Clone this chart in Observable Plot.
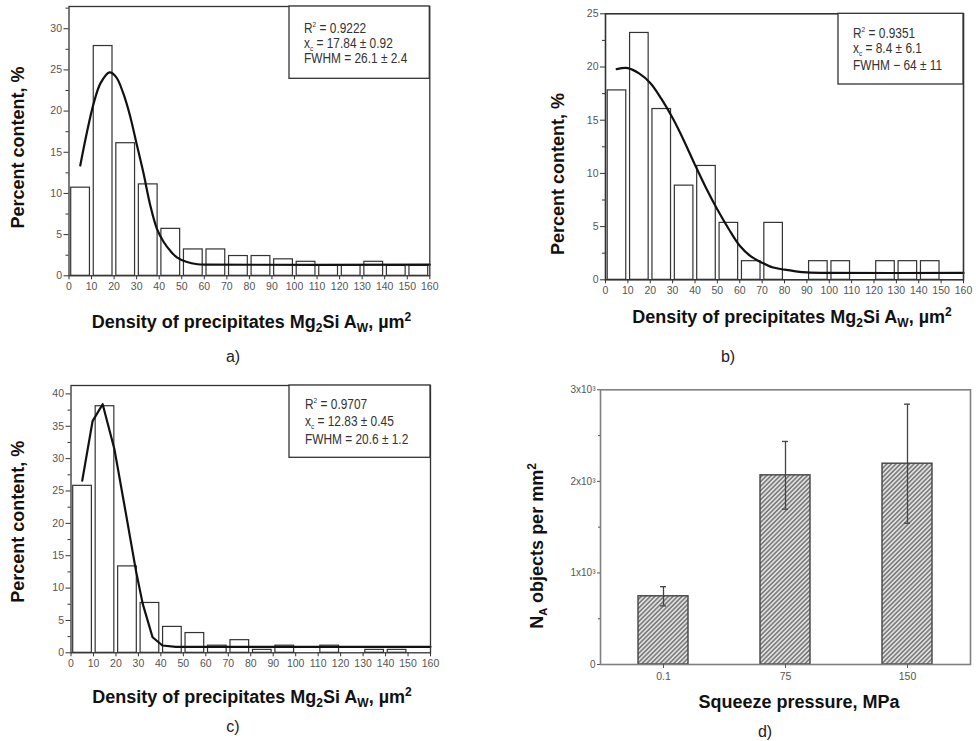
<!DOCTYPE html>
<html><head><meta charset="utf-8">
<script src="https://cdn.jsdelivr.net/npm/d3@7"></script>
<script src="https://cdn.jsdelivr.net/npm/@observablehq/plot@0.6"></script>
<style>
body{margin:0;background:#fff;}
#page{position:relative;width:976px;height:741px;background:#fff;font-family:"Liberation Sans",Arial,sans-serif;overflow:hidden;}
.panel{position:absolute;}
.cap{position:absolute;font-size:16px;color:#222;transform:translate(-50%,-50%);line-height:1;}
</style></head><body><div id="page"></div>
<script>
// ---------- data ----------
const binStarts = [0,10,20,30,40,50,60,70,80,90,100,110,120,130,140,150];
const xTicks = [0,10,20,30,40,50,60,70,80,90,100,110,120,130,140,150,160];

const pctA  = [10.7,27.9,16.1,11.1,5.7,3.2,3.2,2.4,2.4,2.0,1.7,1.25,1.25,1.7,1.2,1.2];
const fitAx = [5,8,11,14,18,21,24,27,30,33,36,39,42,45,48,52,57,62,160];
const fitAy = [13.4,17.5,21.0,23.4,24.7,24.1,22.2,19.5,16.0,12.5,8.6,5.7,4.1,3.0,2.2,1.7,1.4,1.35,1.35];
const statsA = ["0.9222","17.84 ± 0.92","= 26.1 ± 2.4"];

const pctB  = [17.8,23.2,16.05,8.85,10.7,5.35,1.75,5.35,0,1.75,1.75,0,1.75,1.75,1.75,0];
const fitBx = [5,10,15,20,25,30,35,40,45,50,55,60,65,70,75,80,85,90,100,160];
const fitBy = [19.8,19.9,19.4,18.5,17.0,15.2,13.1,10.8,8.6,6.6,4.8,3.2,2.2,1.6,1.15,0.95,0.8,0.7,0.65,0.65];
const statsB = ["0.9351","8.4 ± 6.1","− 64 ± 11"];

const pctC  = [25.8,38.1,13.35,7.7,4.0,3.05,1.1,1.95,0.45,1.1,0,1.1,0,0.45,0.45,0];
const fitCx = [5,9.6,14.1,19.3,24.7,28.9,31.9,36.3,40.7,46.6,160];
const fitCy = [26.6,35.8,38.4,31.5,21,12.7,7.6,2.4,1.13,0.93,0.93];
const statsC = ["0.9707","12.83 ± 0.45","= 20.6 ± 1.2"];

const pressures = ["0.1","75","150"];
const densityNA = [745,2066,2193];
const errNA     = [105,370,650];
const yTicksD   = [0,1000,2000,3000];
const yMinorD   = [500,1500,2500];

// ---------- helpers ----------
const page = document.getElementById("page");
const FONT = "Liberation Sans, Arial, sans-serif";

function place(node, left, top) {
  const d = document.createElement("div");
  d.className = "panel"; d.style.left = left + "px"; d.style.top = top + "px";
  d.appendChild(node); page.appendChild(d);
}
function caption(text, x, y) {
  const d = document.createElement("div");
  d.className = "cap"; d.textContent = text;
  d.style.left = x + "px"; d.style.top = y + "px";
  page.appendChild(d);
}
function xLabelDensity(svg, cx, by) {
  const t = svg.append("text").attr("x", cx).attr("y", by).attr("text-anchor", "middle")
    .attr("font-family", FONT).attr("font-weight", "bold").attr("font-size", 18).attr("fill", "#111");
  t.append("tspan").text("Density of precipitates Mg");
  t.append("tspan").attr("dy", 4).attr("font-size", 12).text("2");
  t.append("tspan").attr("dy", -4).text("Si A");
  t.append("tspan").attr("dy", 4).attr("font-size", 12).text("W");
  t.append("tspan").attr("dy", -4).text(", µm");
  t.append("tspan").attr("dy", -7).attr("font-size", 12).text("2");
}
function yLabel(svg, bx, cy, build) {
  const t = svg.append("text").attr("transform", `translate(${bx},${cy}) rotate(-90)`)
    .attr("text-anchor", "middle").attr("font-family", FONT).attr("font-weight", "bold")
    .attr("font-size", 18).attr("fill", "#111");
  build(t);
}
function statBox(svg, box, tx, bases, stats) {
  svg.append("rect").attr("x", box[0]).attr("y", box[1]).attr("width", box[2]).attr("height", box[3])
    .attr("fill", "#fff").attr("stroke", "#333").attr("stroke-width", 1.3);
  const mk = (by) => svg.append("text").attr("transform", `translate(${tx},${by}) scale(0.82,1)`)
    .attr("text-anchor", "start")
    .attr("font-family", FONT).attr("font-size", 14.5).attr("fill", "#333");
  const t1 = mk(bases[0]);
  t1.append("tspan").text("R");
  t1.append("tspan").attr("dy", -6).attr("font-size", 8).text("2");
  t1.append("tspan").attr("dy", 6).text(" = " + stats[0]);
  const t2 = mk(bases[1]);
  t2.append("tspan").text("x");
  t2.append("tspan").attr("dy", 3).attr("font-size", 8).text("c");
  t2.append("tspan").attr("dy", -3).text(" = " + stats[1]);
  const t3 = mk(bases[2]);
  t3.append("tspan").text("FWHM " + stats[2]);
}

function histPanel(o) {
  const bins = binStarts.map((s, i) => ({x0: s, x1: s + 10, v: o.values[i]})).filter(d => d.v > 0);
  const fit = o.fx.map((x, i) => ({x, y: o.fy[i]}));
  const yMajor = d3.range(0, o.yMax + 0.01, 5).filter(v => v <= o.yTop);
  const yMinor = d3.range(2.5, o.yTop, 5);
  const plot = Plot.plot({
    width: o.width, height: o.height,
    marginLeft: o.l, marginRight: o.width - o.r, marginTop: o.t, marginBottom: o.height - o.b,
    x: {domain: [0, 160]},
    y: {domain: [0, o.yTop]},
    style: {fontFamily: FONT, fontSize: "10.5px", background: "transparent", overflow: "visible"},
    marks: [
      Plot.rectY(bins, {x1: "x0", x2: "x1", y: "v", fill: "white", stroke: "#333", strokeWidth: 1.2, insetLeft: 2.2, insetRight: 1.6}),
      Plot.line(fit, {x: "x", y: "y", curve: o.curve, stroke: "#111", strokeWidth: 2.2}),
      Plot.frame({stroke: "#333", strokeWidth: o.frameW || 1.3}),
      Plot.axisX({ticks: xTicks, tickSize: 4, tickPadding: 3, label: null, stroke: "#333", fill: "#555", fontSize: 10.5}),
      Plot.axisY({ticks: yMajor, tickSize: 5, tickPadding: 2, label: null, stroke: "#333", fill: "#555", fontSize: 10.5}),
      Plot.axisY({ticks: yMinor, tickSize: 3, tickFormat: () => "", label: null, stroke: "#333"})
    ]
  });
  const svg = d3.select(plot);
  statBox(svg, o.box, o.tx, o.bases, o.stats);
  xLabelDensity(svg, o.xl[0], o.xl[1]);
  yLabel(svg, o.yl[0], o.yl[1], t => t.text("Percent content, %"));
  place(plot, o.left, o.top);
}

// ---------- panel a ----------
histPanel({left: 0, top: 0, width: 440, height: 345, l: 68.5, r: 429.3, t: 6, b: 275.3,
  yMax: 30, yTop: 32.7, values: pctA, fx: fitAx, fy: fitAy, curve: "catmull-rom",
  box: [289, 6, 140.3, 72.3], tx: 304, bases: [33.3, 47.7, 63.3], stats: statsA,
  xl: [251.5, 328], yl: [24, 147.5]});

// ---------- panel b ----------
histPanel({left: 490, top: 0, width: 486, height: 345, l: 115, r: 473, t: 13.3, b: 279.3,
  yMax: 25, yTop: 25, values: pctB, fx: fitBx, fy: fitBy, curve: "catmull-rom", frameW: 1.6,
  box: [348, 13.3, 125, 70.7], tx: 363, bases: [37.7, 53, 70], stats: statsB,
  xl: [302, 323], yl: [74, 174]});

// ---------- panel c ----------
histPanel({left: 0, top: 370, width: 440, height: 345, l: 70.5, r: 430, t: 15, b: 282.3,
  yMax: 40, yTop: 41.3, values: pctC, fx: fitCx, fy: fitCy, curve: "linear",
  box: [289, 15, 141, 72.3], tx: 305, bases: [39.3, 55.7, 74], stats: statsC,
  xl: [252, 333], yl: [24, 151.7]});

// ---------- panel d ----------
(function () {
  const rows = pressures.map((p, i) => ({p, v: densityNA[i], lo: densityNA[i] - errNA[i], hi: densityNA[i] + errNA[i]}));
  const W = 476, H = 371;
  const plot = Plot.plot({
    width: W, height: H, marginLeft: 100, marginRight: W - 470, marginTop: 19.3, marginBottom: H - 294,
    x: {type: "band", domain: pressures, paddingInner: 0.587, paddingOuter: 0.3},
    y: {domain: [0, 3000]},
    style: {fontFamily: FONT, fontSize: "10px", background: "transparent", overflow: "visible"},
    marks: [
      Plot.barY(rows, {x: "p", y: "v", fill: "url(#hatchD)", stroke: "#444", strokeWidth: 1.4}),
      Plot.ruleX(rows, {x: "p", y1: "lo", y2: "hi", stroke: "#444", strokeWidth: 1.3}),
      Plot.tickY(rows, {x: "p", y: "hi", stroke: "#444", strokeWidth: 1.3, insetLeft: 22, insetRight: 22}),
      Plot.tickY(rows, {x: "p", y: "lo", stroke: "#444", strokeWidth: 1.3, insetLeft: 22, insetRight: 22}),
      Plot.frame({stroke: "#808080", strokeWidth: 1.6}),
      Plot.axisX({tickSize: 4, tickPadding: 4, label: null, stroke: "#555", fill: "#555", fontSize: 10.5}),
      Plot.axisY({ticks: yTicksD, tickSize: 3, tickPadding: 2, label: null, stroke: "#555", fill: "#555", fontSize: 10,
        tickFormat: d => d === 0 ? "0" : `${d / 1000}x10³`}),
      Plot.axisY({ticks: yMinorD, tickSize: 2, tickFormat: () => "", label: null, stroke: "#555"})
    ]
  });
  const svg = d3.select(plot);
  const defs = svg.insert("defs", ":first-child");
  const pat = defs.append("pattern").attr("id", "hatchD").attr("patternUnits", "userSpaceOnUse")
    .attr("width", 3.2).attr("height", 3.2).attr("patternTransform", "rotate(45)");
  pat.append("rect").attr("width", 3.2).attr("height", 3.2).attr("fill", "#e0e0e0");
  pat.append("line").attr("x1", 0.8).attr("y1", 0).attr("x2", 0.8).attr("y2", 3.2).attr("stroke", "#505050").attr("stroke-width", 1.1);

  svg.append("text").attr("x", 299).attr("y", 338).attr("text-anchor", "middle")
    .attr("font-family", FONT).attr("font-weight", "bold").attr("font-size", 18).attr("fill", "#111")
    .text("Squeeze pressure, MPa");
  yLabel(svg, 42.7, 176, t => {
    t.append("tspan").text("N");
    t.append("tspan").attr("dy", 4).attr("font-size", 11).text("A");
    t.append("tspan").attr("dy", -4).text(" objects per mm");
    t.append("tspan").attr("dy", -7).attr("font-size", 12).text("2");
  });
  place(plot, 500, 370);
})();

caption("a)", 233, 357);
caption("b)", 728, 357);
caption("c)", 233, 727);
caption("d)", 765, 732);
</script>
</body></html>
